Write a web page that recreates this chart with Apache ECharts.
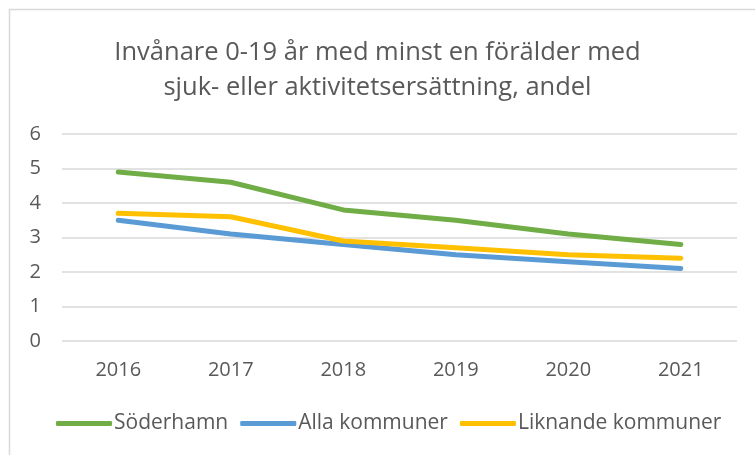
<!DOCTYPE html>
<html>
<head>
<meta charset="utf-8">
<script src="https://cdn.jsdelivr.net/npm/echarts@6/dist/echarts.min.js"></script>
<style>
  html, body { margin: 0; padding: 0; background: #fff; }
  #chart { width: 755px; height: 455px; }
</style>
</head>
<body>
<div id="chart"></div>
<script>
// data
const years = ['2016', '2017', '2018', '2019', '2020', '2021'];
const soderhamn = [4.9, 4.6, 3.8, 3.5, 3.1, 2.8];
const allaKommuner = [3.5, 3.1, 2.8, 2.5, 2.3, 2.1];
const liknandeKommuner = [3.7, 3.6, 2.9, 2.7, 2.5, 2.4];

const FONT = 'Open Sans, Calibri, Carlito, sans-serif';
const TEXT_COLOR = '#595959';

const chart = echarts.init(document.getElementById('chart'), null, { renderer: 'canvas' });

function lineSeries(name, data, color) {
    return {
        name,
        type: 'line',
        data,
        symbol: 'none',
        smooth: false,
        lineStyle: { width: 5, color, cap: 'round', join: 'round' },
        itemStyle: { color },
    };
}

chart.setOption({
    animation: false,
    backgroundColor: '#fff',
    graphic: [{
        type: 'rect',
        shape: { x: 9.5, y: 9.5, width: 800, height: 500 },
        style: { fill: 'none', stroke: '#d9d9d9', lineWidth: 1.5 },
        silent: true,
    }],
    title: {
        text: 'Invånare 0-19 år med minst en förälder med\nsjuk- eller aktivitetsersättning, andel',
        left: 'center',
        top: 30,
        textStyle: {
            fontFamily: FONT,
            fontSize: 25.5,
            fontWeight: 'normal',
            color: TEXT_COLOR,
            lineHeight: 35,
        },
    },
    legend: {
        top: 413,
        left: 56,
        padding: 0,
        itemWidth: 56,
        itemHeight: 5,
        itemGap: 12,
        icon: 'roundRect',
        textStyle: { fontFamily: FONT, fontSize: 21, color: TEXT_COLOR, padding: [0, 0, 0, -3] },
        data: ['Söderhamn', 'Alla kommuner', 'Liknande kommuner'],
    },
    grid: { left: 62, right: 18, top: 134, bottom: 114 },
    xAxis: {
        type: 'category',
        data: years,
        boundaryGap: true,
        axisLine: { show: false },
        axisTick: { show: false },
        axisLabel: { fontFamily: FONT, fontSize: 20, color: TEXT_COLOR, margin: 19 },
    },
    yAxis: {
        type: 'value',
        min: 0,
        max: 6,
        interval: 1,
        axisLine: { show: false },
        axisTick: { show: false },
        axisLabel: { fontFamily: FONT, fontSize: 20, color: TEXT_COLOR, margin: 21 },
        splitLine: { lineStyle: { color: '#d9d9d9', width: 1.5 } },
    },
    series: [
        lineSeries('Söderhamn', soderhamn, '#70ad47'),
        lineSeries('Alla kommuner', allaKommuner, '#5b9bd5'),
        lineSeries('Liknande kommuner', liknandeKommuner, '#ffc000'),
    ],
});
</script>
</body>
</html>
